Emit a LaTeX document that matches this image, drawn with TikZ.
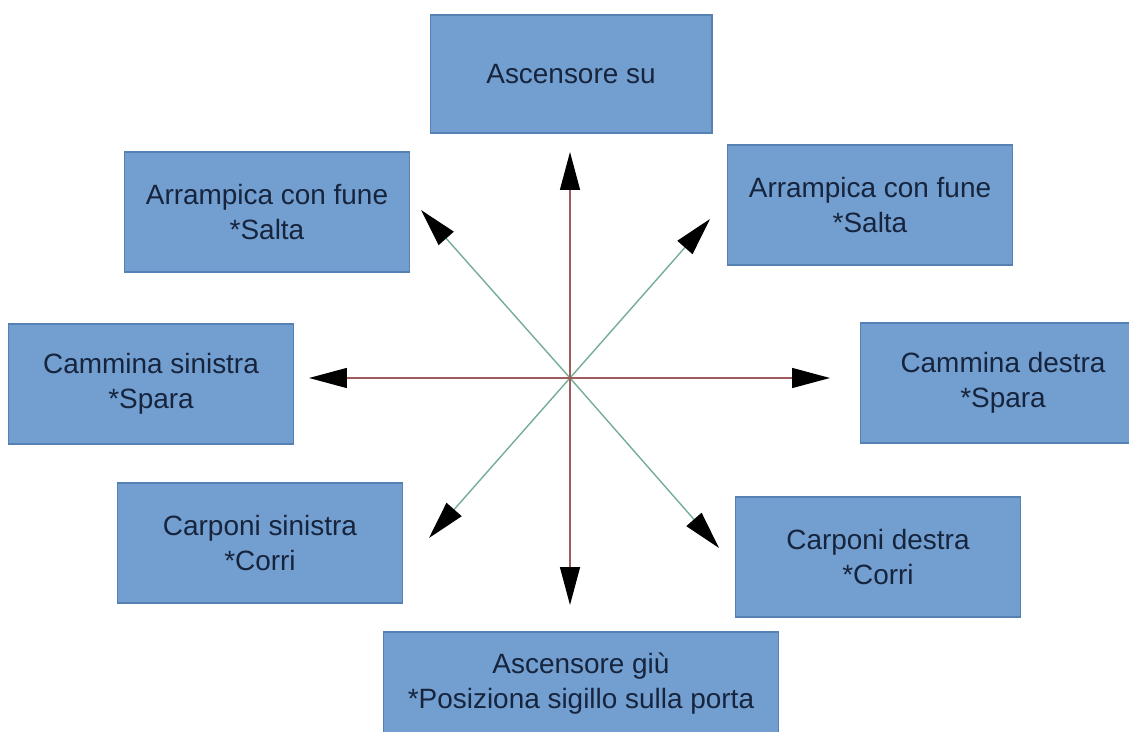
\documentclass[tikz,border=0pt]{standalone}
\usepackage{fontspec}
\setmainfont{Liberation Sans}
\usetikzlibrary{arrows.meta}
\definecolor{boxblue}{HTML}{729FCF}
\definecolor{boxline}{HTML}{5581B5}
\definecolor{boxtext}{HTML}{17243D}
\definecolor{redline}{HTML}{A05C5C}
\definecolor{greenline}{HTML}{76AD95}
\tikzset{
  box/.style={draw=boxline,line width=0.6pt,fill=boxblue,text=boxtext,
    minimum width=5.7cm,minimum height=2.4cm,align=center,
    font=\fontsize{15.9}{19.9}\selectfont},
  asse/.style={draw=redline,line width=0.8pt,-{Triangle[length=0.76cm,width=0.4cm,black]}},
  diag/.style={draw=greenline,line width=0.8pt,-{Triangle[length=0.76cm,width=0.4cm,black]}}
}
\begin{document}
\begin{tikzpicture}[x=0.02cm,y=-0.02cm]
          \fill[white] (0,0) rectangle (1129,732);
          \useasboundingbox (0,0) rectangle (1129,732);
          \node[box,minimum width=5.64cm,minimum height=2.36cm] at (571,74) (su) {Ascensore su};
          \node[box] at (267,212) (arrsx) {Arrampica con fune\\*Salta};
          \node[box] at (870,205) (arrdx) {Arrampica con fune\\*Salta};
          \node[box] at (151,384) (camsx) {Cammina sinistra\\*Spara};
          \node[box] at (1003,383) (camdx) {Cammina destra\\*Spara};
          \node[box] at (260,543) (carsx) {Carponi sinistra\\*Corri};
          \node[box] at (878,557) (cardx) {Carponi destra\\*Corri};
          \node[box,minimum width=7.9cm,minimum height=2.08cm] at (581,684) (giu) {Ascensore giù\\*Posiziona sigillo sulla porta};
          \coordinate (c) at (570,378);
          \coordinate (tsu) at (570,152);
          \coordinate (tgiu) at (570,605);
          \coordinate (tsx) at (309,378);
          \coordinate (tdx) at (830,378);
          \coordinate (tarrsx) at (421,210);
          \coordinate (tarrdx) at (710,219);
          \coordinate (tcarsx) at (429,538);
          \coordinate (tcardx) at (719,548);
          \path (c) edge[diag] (tarrsx);
          \path (c) edge[diag] (tarrdx);
          \path (c) edge[diag] (tcarsx);
          \path (c) edge[diag] (tcardx);
          \path (c) edge[asse] (tsu);
          \path (c) edge[asse] (tgiu);
          \path (c) edge[asse] (tsx);
          \path (c) edge[asse] (tdx);
        \end{tikzpicture}
\end{document}
